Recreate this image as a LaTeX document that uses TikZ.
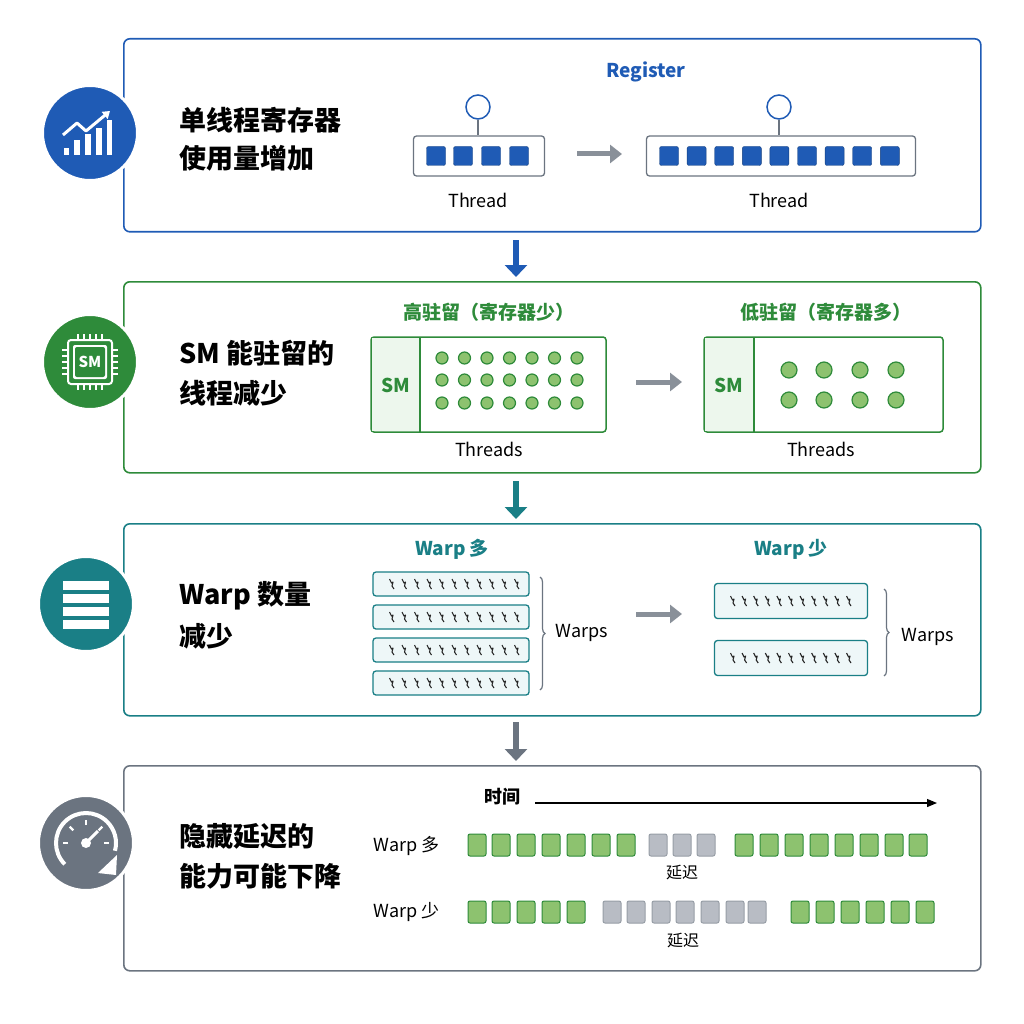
\documentclass[tikz,border=0pt]{standalone}
\usepackage{fontspec}
\setmainfont{Noto Sans CJK SC}
\usetikzlibrary{arrows.meta,decorations.pathreplacing}
\definecolor{cb}{HTML}{1F5BB5}
\definecolor{cg}{HTML}{2E8B3A}
\definecolor{ct}{HTML}{1A7F86}
\definecolor{cy}{HTML}{6B7480}
\definecolor{lg}{HTML}{8DC26F}
\definecolor{lgray}{HTML}{B8BCC4}
\definecolor{lt}{HTML}{EEF7F8}
\begin{document}
\begin{tikzpicture}[x=1pt,y=-1pt,
 panel/.style={draw,line width=1.6pt,rounded corners=6pt,fill=white},
 icon/.style={circle,minimum size=95pt,inner sep=0pt},
 ttl/.style={anchor=west,font=\fontsize{27}{27}\selectfont\bfseries,text=black},
 lab/.style={font=\fontsize{19}{19}\selectfont\bfseries},
 sm/.style={font=\fontsize{18}{18}\selectfont},
 down/.style={-{Triangle[width=22pt,length=12pt]},line width=6pt},
 right/.style={-{Triangle[width=18pt,length=12pt]},line width=5pt,draw=cy!80},
 reg/.style={fill=cb,draw=cb!70!black,rounded corners=2pt,minimum size=19pt,inner sep=0pt},
 tbox/.style={draw=cy,line width=1.3pt,rounded corners=3pt,fill=white},
 dot/.style={circle,fill=lg,draw=cg,line width=1.2pt,inner sep=0pt},
 bar/.style={draw=ct,line width=1.3pt,rounded corners=3pt,fill=lt},
 gsq/.style={fill=lg,draw=cg,line width=1pt,rounded corners=2pt,minimum width=18pt,minimum height=22pt,inner sep=0pt},
 ysq/.style={fill=lgray,draw=cy!70,line width=1pt,rounded corners=2pt,minimum width=18pt,minimum height=22pt,inner sep=0pt},
 sq/.pic={\draw[line width=1.1pt,line join=round] (-2.5,-5)--(-0.5,-1)--(1,-2)--(0,2)--(2,5);}
]
\useasboundingbox (0,0) rectangle (1024,1024);
% panels
\node[panel,draw=cb,minimum width=857pt,minimum height=193pt,anchor=north west] (p1) at (123,38) {};
\node[panel,draw=cg,minimum width=857pt,minimum height=191pt,anchor=north west] (p2) at (123,281) {};
\node[panel,draw=ct,minimum width=857pt,minimum height=192pt,anchor=north west] (p3) at (123,523) {};
\node[panel,draw=cy,minimum width=857pt,minimum height=205pt,anchor=north west] (p4) at (123,765) {};
% down arrows
\coordinate (a1) at (516,240); \coordinate (b1) at (516,277);
\coordinate (a2) at (516,481); \coordinate (b2) at (516,519);
\coordinate (a3) at (516,722); \coordinate (b3) at (516,761);
\draw[down,draw=cb,fill=cb] (a1)--(b1);
\draw[down,draw=ct,fill=ct] (a2)--(b2);
\draw[down,draw=cy,fill=cy] (a3)--(b3);
% icons
\node[icon,fill=cb,draw=white,line width=3pt] (i1) at (90,133) {};
\begin{scope}[shift={(i1.center)},white]
 \fill (-26,15) rectangle (-21,22); \fill (-16,7) rectangle (-10,22);
 \fill (-5,1) rectangle (1,22); \fill (6,-5) rectangle (12,22); \fill (17,-13) rectangle (22,22);
 \draw[line width=3pt,-{Triangle[width=9pt,length=7pt]},line join=round] (-27,2)--(-13,-10)--(-4,-2)--(20,-22);
\end{scope}
\node[icon,fill=cg,draw=white,line width=3pt] (i2) at (90,362) {};
\begin{scope}[shift={(i2.center)},white]
 \draw[line width=2pt,rounded corners=3pt] (-22,-22) rectangle (22,22);
 \fill[white,rounded corners=2pt] (-17,-17) rectangle (17,17);
 \fill[cg,rounded corners=2pt] (-15,-15) rectangle (15,15);
 \foreach \t in {-13,-7,-1,5,11}{\draw[line width=2pt] (\t+1,-22)--(\t+1,-28); \draw[line width=2pt] (\t+1,22)--(\t+1,28);
   \draw[line width=2pt] (-22,\t+1)--(-28,\t+1); \draw[line width=2pt] (22,\t+1)--(28,\t+1);}
 \node[font=\fontsize{15}{15}\selectfont\bfseries,text=white] at (0,0) {SM};
\end{scope}
\node[icon,fill=ct,draw=white,line width=3pt] (i3) at (86,604) {};
\begin{scope}[shift={(i3.center)}]
 \foreach \yy in {-23,-10,3,16}{\fill[white] (-23,\yy) rectangle (23,\yy+9);}
\end{scope}
\node[icon,fill=cy,draw=white,line width=3pt] (i4) at (86,843) {};
\begin{scope}[shift={(i4.center)},white]
 \draw[line width=4pt] (135:30) arc[start angle=135,end angle=375,radius=30];
 \fill (12,30)--(31,12)--(30,32)--cycle;
 \foreach \a in {180,225,270,315,360}{\draw[line width=2.2pt] (\a:18) -- (\a:23);}
 \fill (0,0) circle (5);
 \draw[line width=3pt] (0,0)--(12,-12);
\end{scope}
% panel 1
\node[ttl] (t1) at (176,120) {单线程寄存器};
\node[ttl] (t1b) at (176,158) {使用量增加};
\node[lab,text=cb] (reg) at (646,72) {Register};
\node[tbox,minimum width=131pt,minimum height=40pt] (th1) at (479,156) {};
\foreach \xx [count=\i] in {436,463,491,519}{\node[reg] (r\i) at (\xx,156) {};}
\node[circle,draw=cb,line width=1.5pt,fill=white,minimum size=24pt,inner sep=0pt] (c1) at (478,107) {};
\draw[cy,line width=1.2pt] (c1)--(th1.north -| c1);
\node[sm] (tl1) at (478,200) {Thread};
\coordinate (ra1) at (577,154); \coordinate (rb1) at (622,154);
\draw[right] (ra1)--(rb1);
\node[tbox,minimum width=269pt,minimum height=40pt] (th2) at (781,156) {};
\foreach \i in {0,...,8}{\node[reg] (s\i) at (669+27.6*\i,156) {};}
\node[circle,draw=cb,line width=1.5pt,fill=white,minimum size=24pt,inner sep=0pt] (c2) at (779,107) {};
\draw[cy,line width=1.2pt] (c2)--(th2.north -| c2);
\node[sm] (tl2) at (779,200) {Thread};
% panel 2
\node[ttl] (t2) at (176,353) {SM 能驻留的};
\node[ttl] (t2b) at (176,393) {线程减少};
\node[lab,text=cg] (h1) at (489,312) {高驻留（寄存器少）};
\draw[draw=cg,line width=1.5pt,rounded corners=3pt,fill=white] (371,337) rectangle (606,432);
\fill[green!40!gray!10] (372,338) rectangle (420,431);
\draw[cg,line width=1.5pt] (420,337)--(420,432);
\node[lab,text=cg] (sm1) at (396,385) {SM};
\foreach \r/\yy in {0/358,1/380,2/403}{\foreach \c in {0,...,6}{\node[dot,minimum size=12pt] (d\r\c) at (442+22.5*\c,\yy) {};}}
\node[sm] (th3) at (489,449) {Threads};
\coordinate (ra2) at (636,382); \coordinate (rb2) at (682,382);
\draw[right] (ra2)--(rb2);
\node[lab,text=cg] (h2) at (826,312) {低驻留（寄存器多）};
\draw[draw=cg,line width=1.5pt,rounded corners=3pt,fill=white] (704,337) rectangle (943,432);
\fill[green!40!gray!10] (705,338) rectangle (754,431);
\draw[cg,line width=1.5pt] (754,337)--(754,432);
\node[lab,text=cg] (sm2) at (729,385) {SM};
\foreach \r/\yy in {0/370,1/400}{\foreach \xx [count=\c] in {789,824,860,896}{\node[dot,minimum size=16pt] (e\r\c) at (\xx,\yy) {};}}
\node[sm] (th4) at (821,449) {Threads};
% panel 3
\node[ttl] (t3) at (176,596) {Warp 数量};
\node[ttl] (t3b) at (176,636) {减少};
\node[lab,text=ct] (w1) at (452,549) {Warp 多};
\foreach \yy [count=\i] in {584,617,650,683}{
 \node[bar,minimum width=156pt,minimum height=24pt] (wb\i) at (451,\yy) {};
 \foreach \k in {0,...,10}{\pic[black!85] at (392+12.5*\k,\yy) {sq};}}
\draw[cy,line width=1.2pt,decorate,decoration={brace,amplitude=5pt}] (540,577)--(540,690);
\node[sm,anchor=west] (ws1) at (552,633) {Warps};
\coordinate (ra3) at (636,614); \coordinate (rb3) at (682,614);
\draw[right] (ra3)--(rb3);
\node[lab,text=ct] (w2) at (791,549) {Warp 少};
\foreach \yy [count=\i] in {601,658}{
 \node[bar,minimum width=153pt,minimum height=35pt] (vb\i) at (791,\yy) {};
 \foreach \k in {0,...,10}{\pic[black!85] at (733+11.6*\k,\yy) {sq};}}
\draw[cy,line width=1.2pt,decorate,decoration={brace,amplitude=5pt}] (884,589)--(884,676);
\node[sm,anchor=west] (ws2) at (898,637) {Warps};
% panel 4
\node[ttl] (t4) at (176,836) {隐藏延迟的};
\node[ttl] (t4b) at (176,876) {能力可能下降};
\node[sm,font=\fontsize{18}{18}\selectfont\bfseries] (time) at (502,797) {时间};
\coordinate (ta) at (535,803); \coordinate (tb) at (937,803);
\draw[line width=1.2pt,-{Triangle[width=8pt,length=10pt]}] (ta)--(tb);
\node[sm,anchor=west] (wm) at (370,846) {Warp 多};
\foreach \xx [count=\i] in {477,501,526,551,576,601,626}{\node[gsq] (ga\i) at (\xx,845) {};}
\foreach \xx [count=\i] in {658,682,706}{\node[ysq] (ya\i) at (\xx,845) {};}
\foreach \xx [count=\i] in {744,769,794,819,844,869,894,918}{\node[gsq] (gb\i) at (\xx,845) {};}
\node[font=\fontsize{16}{16}\selectfont] (dl1) at (682,873) {延迟};
\node[sm,anchor=west] (wl) at (370,912) {Warp 少};
\foreach \xx [count=\i] in {477,501,526,551,576}{\node[gsq] (gc\i) at (\xx,912) {};}
\foreach \xx [count=\i] in {612,636,661,685,710,735,757}{\node[ysq] (yb\i) at (\xx,912) {};}
\foreach \xx [count=\i] in {800,825,850,875,900,925}{\node[gsq] (gd\i) at (\xx,912) {};}
\node[font=\fontsize{16}{16}\selectfont] (dl2) at (683,941) {延迟};
\end{tikzpicture}
\end{document}
